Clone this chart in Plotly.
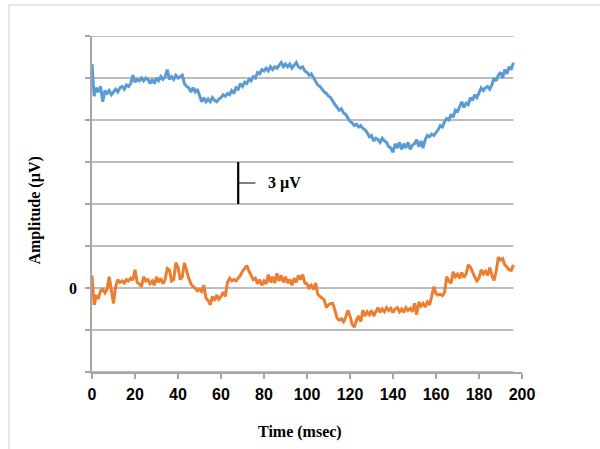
import plotly.graph_objects as go

# Time axis (ms), one sample per millisecond
time_ms = list(range(0, 197))

# Upper trace (µV), plotted with a +15 µV vertical offset already applied
upper_uv = [
    16.0, 13.7, 14.3, 14.0, 14.4, 13.3, 14.1, 13.9, 14.1, 13.8, 14.0,
    14.2, 14.0, 14.3, 14.4, 14.2, 14.5, 14.4, 14.6, 15.2, 14.7,
    14.9, 14.8, 15.0, 14.8, 15.0, 14.9, 14.6, 14.9, 14.6, 15.0,
    14.8, 15.1, 14.9, 15.1, 15.6, 14.9, 15.1, 14.9, 15.2, 15.0,
    15.1, 15.2, 14.6, 14.4, 14.3, 14.0, 14.3, 14.0, 14.2, 13.8,
    13.3, 13.6, 13.3, 13.5, 13.3, 13.6, 13.4, 13.3, 13.5, 13.6,
    13.8, 13.7, 13.9, 13.8, 14.1, 13.9, 14.3, 14.2, 14.6, 14.4,
    14.7, 14.6, 14.9, 14.8, 15.1, 15.0, 15.4, 15.3, 15.6, 15.5,
    15.7, 15.5, 15.8, 15.6, 15.8, 15.7, 15.9, 16.1, 15.8, 16.0,
    15.8, 16.0, 15.7, 15.9, 16.1, 15.8, 15.7, 15.8, 15.5, 15.4,
    15.2, 15.3, 15.0, 14.8, 14.5, 14.4, 14.2, 14.0, 13.9, 13.7,
    13.6, 13.3, 13.1, 12.9, 12.7, 12.8, 12.5, 12.4, 12.1, 11.9,
    11.8, 11.6, 11.7, 11.5, 11.6, 11.4, 11.3, 11.1, 10.8, 10.9,
    10.5, 10.7, 10.6, 10.4, 10.7, 10.5, 10.4, 10.1, 10.0, 9.7,
    10.3, 10.0, 10.4, 9.9, 10.3, 10.0, 10.4, 9.9, 10.2, 10.3,
    10.6, 10.1, 10.5, 10.0, 10.6, 10.9, 10.8, 11.0, 10.9, 11.1,
    11.3, 11.6, 11.5, 11.9, 12.1, 12.0, 12.4, 12.2, 12.7, 12.6,
    13.0, 13.3, 12.9, 13.2, 13.1, 13.6, 13.4, 13.8, 13.6, 14.0,
    14.3, 14.1, 14.3, 14.4, 14.2, 14.5, 15.0, 14.8, 15.2, 15.4,
    15.0, 15.6, 15.3, 15.8, 15.6, 16.1,
]

# Lower trace (µV), on the zero baseline
lower_uv = [
    0.9, -1.2, -0.6, -0.7, -0.2, -0.1, -0.35, -0.1, 0.8, -0.2, -1.1,
    0.1, 0.6, 0.4, 0.5, 0.35, 0.6, 0.5, 0.7, 0.55, 1.3,
    0.4, 0.3, 0.1, 0.8, 0.5, 0.6, 0.3, 0.5, 0.2, 0.8,
    0.4, 0.7, 0.3, 0.6, 1.4, 1.3, 0.5, 0.6, 1.8, 1.5,
    0.6, 0.8, 1.8, 1.2, 0.7, 0.3, 0.1, 0.0, -0.2, -0.1,
    -0.25, 0.2, -0.7, -0.9, -1.2, -0.6, -0.9, -0.5, -0.8, -0.6,
    -0.3, -0.6, 0.4, 0.7, 0.5, 0.6, 0.5, 0.7, 0.9, 1.2,
    1.4, 1.6, 1.2, 0.9, 0.6, 0.7, 0.3, 0.6, 0.2, 0.5,
    0.3, 0.95, 0.4, 0.8, 0.35, 1.05, 0.5, 0.9, 0.4, 0.8,
    0.35, 0.6, 0.2, 0.7, 0.4, 0.9, 0.6, 0.95, 0.35, 0.3,
    0.0, 0.2, -0.1, 0.35, -0.45, -0.6, -0.7, -0.85, -1.4, -1.2,
    -1.1, -1.1, -1.6, -2.15, -2.3, -2.2, -2.4, -2.1, -1.6, -2.0,
    -2.6, -2.8, -2.3, -2.0, -2.4, -1.6, -2.0, -1.7, -1.9, -1.6,
    -2.0, -1.7, -1.4, -1.75, -1.5, -1.7, -1.4, -1.6, -1.45, -1.75,
    -1.5, -1.4, -1.7, -1.5, -1.75, -1.4, -1.6, -1.45, -1.7, -1.1,
    -1.9, -1.0, -1.3, -1.1, -1.35, -1.0, -1.2, -0.6, 0.1, -0.4,
    -0.5, -0.45, -0.55, -0.3, 0.8, 0.5, 0.35, 1.15, 0.8, 1.0,
    0.7, 1.1, 0.75, 1.0, 1.65, 1.5, 1.1, 0.8, 0.5, 0.7,
    1.3, 1.0, 1.2, 0.9, 1.45, 0.9, 0.55, 1.2, 2.2, 2.0,
    2.1, 1.65, 1.5, 1.3, 1.25, 1.65,
]

# Axis ticks
x_ticks = [0, 20, 40, 60, 80, 100, 120, 140, 160, 180, 200]
y_ticks = [-6, -3, 0, 3, 6, 9, 12, 15, 18]
y_tick_text = ["0" if v == 0 else "" for v in y_ticks]

# Calibration bar: 3 µV
scale_t = 68
scale_lo, scale_hi = 6, 9
scale_label = "3 µV"

BLUE = "#5B9BD5"
ORANGE = "#ED7D31"
GRID = "#A6A6A6"
SERIF = "Liberation Serif, Times New Roman, serif"
SANS = "Liberation Sans, Arial, sans-serif"

fig = go.Figure()

fig.add_trace(go.Scatter(x=time_ms, y=upper_uv, mode="lines",
                         line=dict(color=BLUE, width=3), showlegend=False))
fig.add_trace(go.Scatter(x=time_ms, y=lower_uv, mode="lines",
                         line=dict(color=ORANGE, width=3), showlegend=False))

# Calibration bar (vertical) and its small side tick
fig.add_trace(go.Scatter(x=[scale_t, scale_t], y=[scale_lo, scale_hi], mode="lines",
                         line=dict(color="black", width=2.2), showlegend=False))
scale_mid = (scale_lo + scale_hi) / 2
fig.add_trace(go.Scatter(x=[scale_t, scale_t + 8], y=[scale_mid, scale_mid], mode="lines",
                         line=dict(color="black", width=1), showlegend=False))

# Horizontal gridlines spanning the recorded time window
for v in y_ticks:
    fig.add_shape(type="line", xref="x", yref="y",
                  x0=time_ms[0], x1=time_ms[-1], y0=v, y1=v,
                  line=dict(color=GRID, width=1.5), layer="below")

# Light frame around the chart
fig.add_shape(type="rect", xref="paper", yref="paper",
              x0=-0.193, x1=1.3, y0=-0.4, y1=1.092,
              line=dict(color="#D9D9D9", width=1.2), layer="below")

fig.add_annotation(x=scale_t + 13, y=scale_mid, xref="x", yref="y",
                   text="<b>" + scale_label + "</b>", showarrow=False,
                   xanchor="left", yanchor="middle",
                   font=dict(family=SERIF, size=16, color="black"))

fig.add_annotation(x=0.484, y=-0.18, xref="paper", yref="paper",
                   text="<b>Time (msec)</b>", showarrow=False,
                   xanchor="center", yanchor="middle",
                   font=dict(family=SERIF, size=16, color="black"))
fig.add_annotation(x=-0.133, y=0.48, xref="paper", yref="paper",
                   text="<b>Amplitude (µV)</b>", showarrow=False, textangle=-90,
                   xanchor="center", yanchor="middle",
                   font=dict(family=SERIF, size=16, color="black"))

fig.update_xaxes(range=[0, 200], tickvals=x_ticks, ticks="outside", ticklen=5,
                 tickcolor=GRID, tickwidth=1.5, showline=True, linecolor=GRID,
                 linewidth=1.5, showgrid=False, zeroline=False,
                 tickfont=dict(family=SANS, size=16, color="black", weight="bold"),
                 ticklabelstandoff=2)
fig.update_yaxes(range=[-6, 18], tickvals=y_ticks, ticktext=y_tick_text,
                 ticks="outside", ticklen=5, tickcolor=GRID, tickwidth=1.5,
                 showline=True, linecolor=GRID, linewidth=1.5, showgrid=False,
                 zeroline=False,
                 tickfont=dict(family=SERIF, size=16, color="black", weight="bold"),
                 ticklabelstandoff=5)

fig.update_layout(width=600, height=449,
                  margin=dict(l=92, r=78, t=36, b=77),
                  plot_bgcolor="white", paper_bgcolor="white")

fig.write_html("out.html")
